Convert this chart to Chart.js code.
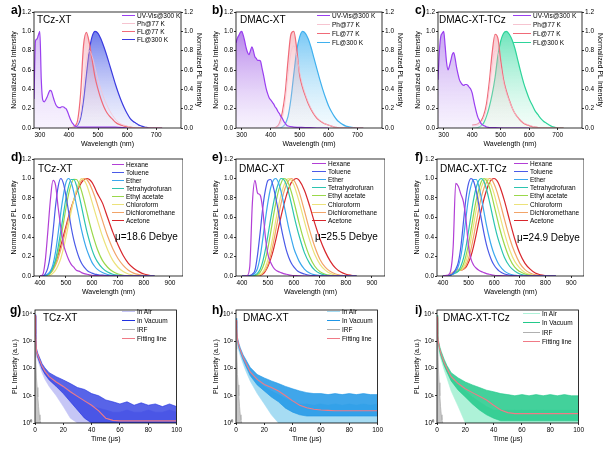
<!DOCTYPE html>
<html>
<head>
<meta charset="utf-8">
<script src="https://cdn.jsdelivr.net/npm/chart.js@4.4.1/dist/chart.umd.min.js"></script>
<style>
  html, body { margin: 0; padding: 0; background: #fff; }
  body { position: relative; width: 610px; height: 449px; overflow: hidden;
         font-family: "Liberation Sans", Arial, sans-serif; color: #000; }
  canvas { position: absolute; }
  .txt { position: absolute; white-space: nowrap; z-index: 2; }
  .letter { font-weight: bold; font-size: 12px; line-height: 12px; }
  .name { font-size: 10px; line-height: 10px; }
  .leg { position: absolute; z-index: 2; font-size: 6.5px; line-height: 8px; height: 8px; white-space: nowrap; }
  .leg i { position: absolute; left: 0; top: 3px; height: 1px; }
</style>
</head>
<body>
<script>
// ---------- row 1: absorption and PL spectra ----------
const WL_ABS = [280,285,290,295,300,305,310,315,320,325,330,335,340,345,350,355,360,365,370,375,
                380,385,390,395,400,405,410,415,420,425,430,435,440,445,450,455,460,480,520,560,600];
const WL_PL = [400,410,420,430,440,450,460,470,480,490,500,510,520,530,540,550,560,570,580,590,
               600,610,620,630,640,650,660,670,680,690,700,710,720];
const X_TICKS_1 = [300, 400, 500, 600, 700];
const Y_TICKS = [0, 0.2, 0.4, 0.6, 0.8, 1.0, 1.2];
const LEGEND_1 = ['UV-Vis@300 K', 'Ph@77 K', 'FL@77 K', 'FL@300 K'];

const absTCz = [0.3,0.9,0.92,0.96,1.0,0.5,0.29,0.27,0.29,0.32,
                0.36,0.39,0.38,0.33,0.28,0.24,0.22,0.21,0.21,0.22,
                0.22,0.21,0.2,0.17,0.13,0.09,0.06,0.04,0.02,0.015,
                0.01,0.01,0.01,0.01,0.01,0.01,0.01,0.01,0.01,0.01,0];
const absDMAC = [0.88,0.93,0.96,0.99,1.0,0.96,0.9,0.83,0.78,0.76,
                 0.8,0.84,0.8,0.74,0.72,0.7,0.7,0.69,0.62,0.55,
                 0.47,0.4,0.35,0.31,0.29,0.27,0.25,0.22,0.2,0.17,
                 0.15,0.12,0.1,0.07,0.05,0.03,0.02,0.01,0.005,0,0];
const absDMACT = [0.5,0.8,0.95,0.98,1.0,0.85,0.68,0.6,0.64,0.7,
                  0.76,0.78,0.72,0.63,0.56,0.5,0.47,0.45,0.44,0.45,
                  0.45,0.44,0.42,0.4,0.36,0.29,0.22,0.16,0.11,0.08,
                  0.05,0.035,0.025,0.02,0.01,0.008,0.005,0.003,0,0,0];

const ph77TCz = [0,0,0.01,0.04,0.15,0.42,0.7,0.8,0.74,0.62,0.5,0.4,0.31,0.24,0.18,0.13,0.09,0.06,0.04,0.03,
                 0.02,0.01,0.005,0,0,0,0,0,0,0,0,0,0];
const fl77TCz = [0,0.005,0.02,0.08,0.35,0.85,0.99,0.88,0.7,0.52,0.4,0.3,0.22,0.16,0.12,0.09,0.06,0.04,0.03,0.02,
                 0.015,0.01,0.005,0,0,0,0,0,0,0,0,0,0];
const fl300TCz = [0,0,0.01,0.03,0.1,0.28,0.55,0.8,0.95,1.0,0.98,0.92,0.84,0.75,0.65,0.55,0.45,0.36,0.28,0.21,
                  0.15,0.1,0.07,0.05,0.03,0.02,0.01,0.005,0,0,0,0,0];
const ph77DMAC = [0,0,0.005,0.03,0.1,0.28,0.55,0.78,0.85,0.75,0.58,0.45,0.35,0.27,0.2,0.15,0.11,0.08,0.06,0.04,
                  0.03,0.02,0.01,0.005,0,0,0,0,0,0,0,0,0];
const fl77DMAC = [0,0,0.01,0.05,0.16,0.36,0.7,0.97,1.0,0.82,0.55,0.42,0.33,0.25,0.19,0.14,0.1,0.075,0.055,0.04,
                  0.03,0.02,0.01,0.005,0,0,0,0,0,0,0,0,0];
const fl300DMAC = [0,0,0,0,0.01,0.04,0.12,0.3,0.56,0.8,0.94,1.0,0.98,0.92,0.83,0.72,0.61,0.5,0.4,0.31,
                   0.23,0.17,0.12,0.08,0.055,0.035,0.02,0.012,0.006,0.003,0,0,0];
const ph77DMACT = [0.02,0.025,0.03,0.05,0.1,0.2,0.4,0.65,0.8,0.78,0.62,0.47,0.36,0.28,0.21,0.15,0.11,0.08,0.055,0.04,
                   0.03,0.02,0.01,0.005,0,0,0,0,0,0,0,0,0];
const fl77DMACT = [0.03,0.035,0.045,0.07,0.13,0.25,0.48,0.78,0.97,0.93,0.7,0.5,0.38,0.29,0.21,0.15,0.11,0.075,0.05,0.035,
                   0.025,0.015,0.01,0.005,0,0,0,0,0,0,0,0,0];
const fl300DMACT = [0,0,0.005,0.02,0.05,0.12,0.22,0.35,0.52,0.75,0.9,0.98,1.0,0.97,0.91,0.82,0.7,0.58,0.47,0.38,
                    0.3,0.24,0.18,0.14,0.1,0.07,0.05,0.03,0.015,0.007,0,0,0];

// ---------- row 2: solvatochromic PL ----------
const WL_SOLV = [400,410,420,430,440,450,460,470,480,490,500,510,520,530,540,550,560,570,580,590,600,610,620,
                 640,660,680,700,720,740,760,780,800,820,840];
const X_TICKS_2 = [400, 500, 600, 700, 800, 900];
const SOLVENTS = ['Hexane','Toluene','Ether','Tetrahydrofuran','Ethyl acetate','Chloroform','Dichloromethane','Acetone'];
const SOLV_COLORS = ['#b23fd6','#4a5ae8','#3ba7ee','#2cc4b0','#9ad84a','#ece27a','#f2a468','#d8262c'];

const solvTCz = [
  [0,0.01,0.15,0.45,0.78,0.98,0.93,0.7,0.5,0.33,0.24,0.17,0.12,0.09,0.06,0.05,0.035,0.025,0.018,0.012,0.008,0.005,0.003,0.001,0,0,0,0,0,0,0,0,0,0],
  [0,0,0.02,0.08,0.22,0.45,0.72,0.92,1.0,0.95,0.82,0.66,0.5,0.37,0.27,0.19,0.13,0.09,0.06,0.04,0.03,0.02,0.015,0.008,0.004,0.002,0,0,0,0,0,0,0,0],
  [0,0,0.005,0.02,0.05,0.12,0.25,0.44,0.65,0.83,0.96,1.0,0.96,0.86,0.73,0.6,0.47,0.36,0.27,0.2,0.14,0.1,0.07,0.035,0.015,0.006,0.002,0,0,0,0,0,0,0],
  [0,0,0.005,0.015,0.04,0.09,0.17,0.3,0.46,0.63,0.8,0.92,0.99,0.99,0.93,0.83,0.71,0.58,0.46,0.36,0.27,0.2,0.15,0.08,0.04,0.018,0.008,0.003,0,0,0,0,0,0],
  [0,0,0,0.01,0.03,0.07,0.14,0.24,0.38,0.54,0.7,0.84,0.94,0.99,0.99,0.95,0.87,0.77,0.66,0.55,0.45,0.36,0.28,0.16,0.09,0.045,0.02,0.008,0.003,0,0,0,0,0],
  [0,0,0,0,0.01,0.03,0.06,0.11,0.18,0.28,0.4,0.53,0.66,0.78,0.88,0.96,1.0,0.98,0.93,0.85,0.76,0.67,0.58,0.41,0.27,0.16,0.09,0.045,0.02,0.008,0.003,0,0,0],
  [0,0,0,0.01,0.03,0.06,0.11,0.18,0.27,0.37,0.48,0.59,0.69,0.78,0.86,0.93,0.98,1.0,0.99,0.95,0.89,0.82,0.74,0.57,0.41,0.28,0.18,0.11,0.06,0.03,0.015,0.006,0.002,0],
  [0,0,0.005,0.015,0.04,0.08,0.14,0.22,0.31,0.41,0.51,0.61,0.7,0.78,0.85,0.91,0.96,0.99,1.0,0.99,0.96,0.91,0.85,0.75,0.6,0.45,0.32,0.21,0.13,0.08,0.045,0.02,0.008,0]
];
const solvDMAC = [
  [0,0,0.005,0.1,0.75,0.98,0.85,0.83,0.68,0.4,0.22,0.14,0.09,0.06,0.045,0.035,0.025,0.018,0.012,0.008,0.005,0.003,0.002,0,0,0,0,0,0,0,0,0,0,0],
  [0,0,0,0.005,0.02,0.06,0.22,0.45,0.7,0.88,0.98,0.99,0.92,0.8,0.66,0.51,0.38,0.27,0.19,0.13,0.09,0.06,0.04,0.02,0.008,0.003,0,0,0,0,0,0,0,0],
  [0,0,0,0,0.01,0.03,0.08,0.2,0.38,0.58,0.76,0.9,0.98,1.0,0.96,0.87,0.75,0.62,0.49,0.38,0.28,0.21,0.15,0.07,0.03,0.012,0.005,0,0,0,0,0,0,0],
  [0,0,0,0,0,0.01,0.03,0.07,0.15,0.27,0.42,0.58,0.73,0.86,0.95,1.0,0.99,0.94,0.85,0.74,0.62,0.51,0.41,0.24,0.13,0.06,0.025,0.01,0,0,0,0,0,0],
  [0,0,0,0,0,0.005,0.015,0.04,0.09,0.17,0.29,0.44,0.6,0.75,0.87,0.95,1.0,0.99,0.94,0.86,0.76,0.65,0.54,0.35,0.2,0.1,0.045,0.018,0.007,0,0,0,0,0],
  [0,0,0,0,0,0,0.005,0.015,0.04,0.09,0.17,0.28,0.42,0.57,0.71,0.83,0.92,0.98,1.0,0.98,0.93,0.85,0.76,0.56,0.37,0.22,0.12,0.06,0.025,0.01,0,0,0,0],
  [0,0,0,0,0,0,0,0.01,0.03,0.06,0.12,0.21,0.33,0.47,0.61,0.74,0.85,0.93,0.98,1.0,0.98,0.93,0.86,0.67,0.47,0.3,0.17,0.09,0.045,0.02,0.008,0,0,0],
  [0,0,0,0,0,0,0,0.005,0.02,0.05,0.1,0.17,0.26,0.37,0.49,0.61,0.72,0.82,0.9,0.96,0.99,1.0,0.98,0.88,0.72,0.54,0.38,0.25,0.15,0.08,0.04,0.018,0.007,0]
];
const solvDMACT = [
  [0,0.005,0.01,0.05,0.3,0.95,0.92,0.84,0.76,0.58,0.3,0.17,0.11,0.08,0.06,0.045,0.035,0.025,0.018,0.012,0.008,0.005,0.003,0.001,0,0,0,0,0,0,0,0,0,0],
  [0,0,0,0.01,0.03,0.07,0.14,0.3,0.55,0.8,0.95,1.0,0.97,0.87,0.73,0.58,0.44,0.32,0.23,0.16,0.11,0.075,0.05,0.02,0.008,0.003,0,0,0,0,0,0,0,0],
  [0,0,0,0.01,0.02,0.05,0.1,0.2,0.38,0.6,0.8,0.93,0.99,0.99,0.92,0.8,0.66,0.52,0.4,0.3,0.22,0.16,0.11,0.05,0.02,0.008,0,0,0,0,0,0,0,0],
  [0,0,0,0.01,0.02,0.03,0.05,0.1,0.18,0.3,0.46,0.63,0.79,0.91,0.98,1.0,0.97,0.89,0.78,0.66,0.54,0.43,0.34,0.19,0.1,0.05,0.02,0.008,0,0,0,0,0,0],
  [0,0,0,0.01,0.02,0.04,0.05,0.07,0.12,0.21,0.33,0.48,0.64,0.78,0.89,0.97,1.0,0.98,0.92,0.83,0.72,0.61,0.5,0.32,0.18,0.09,0.045,0.02,0.008,0,0,0,0,0],
  [0,0,0,0.01,0.03,0.05,0.06,0.06,0.09,0.15,0.25,0.38,0.53,0.68,0.81,0.91,0.97,1.0,0.98,0.92,0.84,0.74,0.64,0.44,0.27,0.15,0.08,0.035,0.015,0.005,0,0,0,0],
  [0,0,0,0.02,0.04,0.06,0.07,0.06,0.07,0.11,0.18,0.28,0.41,0.55,0.69,0.81,0.9,0.96,1.0,0.99,0.94,0.87,0.78,0.58,0.39,0.24,0.13,0.065,0.03,0.012,0.004,0,0,0],
  [0,0,0,0.01,0.03,0.05,0.06,0.06,0.07,0.09,0.14,0.21,0.31,0.43,0.56,0.68,0.79,0.88,0.95,0.99,1.0,0.98,0.93,0.77,0.57,0.38,0.23,0.13,0.07,0.03,0.012,0.004,0,0]
];

// ---------- row 3: transient PL decay ----------
const T = [0,0.5,1,2,3,5,7,10,15,20,25,30,35,40,45,50,55,60,65,70,75,80,85,90,95,100];
const T_IRF = [0,0.5,1,1.5,2,2.5,3,3.5,4];
const X_TICKS_3 = [0, 20, 40, 60, 80, 100];
const Y_TICKS_LOG = [1, 10, 100, 1000, 10000];
const LEGEND_3 = ['In Air', 'In Vacuum', 'IRF', 'Fitting line'];

const fitTCz   = [9000,1500,450,300,220,120,80,50,32,22,14,9.5,6.5,4.5,2.8,1.5,1.25,1.2,1.2,1.2,1.2,1.2,1.2,1.2,1.2,1.2];
const vacHiTCz = [9500,1900,560,360,270,150,105,70,50,38,28,20,17,12,10,7,6,5,6,4.5,5.5,4.5,5,4,5,4];
const vacLoTCz = [8500,1200,380,250,180,95,62,38,22,12,6,3,1.5,1,1,1,1,1,1,1,1,1,1,1,1,1];
const airHiTCz = [8000,1400,420,280,200,110,75,48,30,19,13,9,6,4,3.5,3,2.5,2.5,3,2.5,2.5,3,2.5,2.5,3,2.5];
const airLoTCz = [7000,1000,300,200,140,70,40,22,10,4,1.5,1,1,1,1,1,1,1,1,1,1,1,1,1,1,1];
const irfTCz   = [1500,250,45,20,9,4,2,1.3,1];

const fitDMAC   = [6000,2500,1200,700,480,260,160,75,40,26,20,15,10,6.5,4.5,3.6,3.2,3,2.9,2.8,2.8,2.8,2.8,2.8,2.8,2.8];
const vacHiDMAC = [7000,3000,1400,850,580,320,210,110,60,45,35,28,22,18,15,13,12,12,11,12,11,12,11,12,11,11];
const vacLoDMAC = [5500,2100,1000,580,400,210,120,55,25,15,9,6,3.5,2.5,2,1.8,1.8,1.8,1.8,1.8,1.8,1.8,1.8,1.8,1.8,1.8];
const airHiDMAC = [6000,2300,1100,650,430,230,140,70,35,22,15,11,8,6,5,5,4.5,5,4.5,5,4.5,5,4.5,5,4.5,5];
const airLoDMAC = [5000,1800,800,450,300,150,80,35,12,5,2,1,1,1,1,1,1,1,1,1,1,1,1,1,1,1];
const irfDMAC   = [3000,500,60,25,10,4,2,1.3,1];

const fitDMACT   = [8000,1500,900,500,330,170,100,50,28,18,13,9.5,7,4.5,3,2.4,2.2,2.2,2.2,2.2,2.2,2.2,2.2,2.2,2.2,2.2];
const vacHiDMACT = [9000,1800,1100,620,420,220,130,70,45,32,25,20,16,14,12,11,10,11,10,11,10,11,10,11,10,10];
const vacLoDMACT = [7000,1200,750,400,260,130,75,35,16,9,5,3,2,1.5,1.2,1.2,1.2,1.2,1.2,1.2,1.2,1.2,1.2,1.2,1.2,1.2];
const airHiDMACT = [8000,1400,850,450,300,150,90,45,25,15,9,6,4,3,3,3,3,3,3,3,3,3,3,3,3,3];
const airLoDMACT = [6000,1000,600,300,200,90,45,15,4,1,1,1,1,1,1,1,1,1,1,1,1,1,1,1,1,1];
const irfDMACT   = [5000,800,100,30,10,4,2,1.3,1];

// ---------- helpers ----------
const FONT = "'Liberation Sans', Arial, sans-serif";
const TICK_FONT = {family: FONT, size: 6.5};
const TITLE_FONT = {family: FONT, size: 7};
const SUP = ['\u2070', '\u00b9', '\u00b2', '\u00b3', '\u2074'];

const pts = (xs, ys) => xs.map((x, i) => ({x, y: ys[i]}));

function grad(top, bottom) {
  return ctx => {
    const a = ctx.chart.chartArea;
    if (!a) return top;
    const g = ctx.chart.ctx.createLinearGradient(0, a.top, 0, a.bottom);
    g.addColorStop(0, top);
    g.addColorStop(1, bottom);
    return g;
  };
}

const frame = {
  id: 'frame',
  afterDatasetsDraw(chart) {
    const {ctx, chartArea: a} = chart;
    ctx.save();
    ctx.strokeStyle = '#000';
    ctx.lineWidth = 0.8;
    ctx.strokeRect(a.left, a.top, a.right - a.left, a.bottom - a.top);
    ctx.restore();
  }
};

function axis(o) {
  return {
    type: o.type || 'linear',
    position: o.position,
    min: o.min, max: o.max,
    afterBuildTicks: s => { s.ticks = o.ticks.map(v => ({value: v})); },
    afterFit: s => { if (o.size.w) s.width = o.size.w; else s.height = o.size.h; },
    border: {display: false},
    grid: {drawOnChartArea: false, tickLength: 2, color: '#000', lineWidth: 0.8},
    ticks: {font: TICK_FONT, color: '#000', padding: 1, maxRotation: 0, autoSkip: false,
            callback: o.fmt || (v => v)},
    title: {display: true, text: o.title, font: TITLE_FONT, color: '#000', padding: 0}
  };
}

const fmt1 = v => v.toFixed(1);
const fmtLog = v => '10' + SUP[Math.round(Math.log10(v))];

function addText(cls, text, x, y) {
  const d = document.createElement('div');
  d.className = 'txt ' + cls;
  d.style.left = x + 'px';
  d.style.top = y + 'px';
  d.textContent = text;
  document.body.appendChild(d);
}

function addLegend(datasets, spec) {
  const [lx, tx, y0, dy] = spec;
  datasets.filter(d => d.label).forEach((d, k) => {
    const row = document.createElement('div');
    row.className = 'leg';
    row.style.left = lx + 'px';
    row.style.top = Math.round(y0 + k * dy - 4) + 'px';
    const mark = document.createElement('i');
    mark.style.width = (tx - lx - 2) + 'px';
    mark.style.background = d.borderColor;
    const t = document.createElement('span');
    t.style.marginLeft = (tx - lx) + 'px';
    t.textContent = d.label;
    row.append(mark, t);
    document.body.appendChild(row);
  });
}

function panel(p, datasets, scales) {
  const c = document.createElement('canvas');
  c.width = p.box[2];
  c.height = p.box[3];
  c.style.left = p.box[0] + 'px';
  c.style.top = p.box[1] + 'px';
  document.body.appendChild(c);
  new Chart(c, {
    type: 'line',
    data: {datasets},
    options: {
      responsive: false, animation: false, events: [],
      layout: {padding: {top: 5, left: 0, right: 0, bottom: 0}},
      elements: {point: {radius: 0}},
      plugins: {legend: {display: false}, tooltip: {enabled: false}},
      scales
    },
    plugins: [frame]
  });
  addText('letter', p.letter, p.letterAt[0], p.letterAt[1]);
  addText('name', p.name, p.nameAt[0], p.nameAt[1]);
  if (p.mu) addText('name', p.mu, p.muAt[0], p.muAt[1]);
  addLegend(datasets, p.leg);
}

// ---------- row 1 ----------
function spectraPanel(p, abs, ph, fl77, fl300, uvTop, flLine, flTop, flBottom) {
  const ds = [
    {label: LEGEND_1[0], data: pts(WL_ABS, abs), yAxisID: 'y', borderColor: '#9a3ff0', borderWidth: 1.2,
     fill: 'origin', backgroundColor: grad(uvTop, 'rgba(236,224,252,0.4)'), cubicInterpolationMode: 'monotone'},
    {label: LEGEND_1[1], data: pts(WL_PL, ph), yAxisID: 'y2', borderColor: '#f6c4d0', borderWidth: 0.8,
     fill: false, cubicInterpolationMode: 'monotone'},
    {label: LEGEND_1[2], data: pts(WL_PL, fl77), yAxisID: 'y2', borderColor: '#f06a78', borderWidth: 1.2,
     fill: 'origin', backgroundColor: grad('rgba(240,120,135,0.55)', 'rgba(250,228,230,0.15)'),
     cubicInterpolationMode: 'monotone'},
    {label: LEGEND_1[3], data: pts(WL_PL, fl300), yAxisID: 'y2', borderColor: flLine, borderWidth: 1.2,
     fill: 'origin', backgroundColor: grad(flTop, flBottom), cubicInterpolationMode: 'monotone'}
  ];
  panel(p, ds, {
    x: axis({min: 280, max: 785, ticks: X_TICKS_1, title: 'Wavelength (nm)', size: {h: 20}}),
    y: axis({position: 'left', min: 0, max: 1.2, ticks: Y_TICKS, fmt: fmt1,
             title: 'Normalized Abs Intensity', size: {w: 24}}),
    y2: axis({position: 'right', min: 0, max: 1.2, ticks: Y_TICKS, fmt: fmt1,
              title: 'Normalized PL Intensity', size: {w: 22}})
  });
}

spectraPanel({box: [10, 7, 193, 141], letter: 'a)', letterAt: [11, 4], name: 'TCz-XT', nameAt: [37, 15],
              leg: [122, 137, 16, 8]},
  absTCz, ph77TCz, fl77TCz, fl300TCz, 'rgba(175,125,238,0.6)',
  '#3a3ae0', 'rgba(50,70,228,0.92)', 'rgba(210,215,250,0.3)');
spectraPanel({box: [212, 7, 192, 141], letter: 'b)', letterAt: [212, 4], name: 'DMAC-XT', nameAt: [240, 15],
              leg: [317, 332, 16, 9]},
  absDMAC, ph77DMAC, fl77DMAC, fl300DMAC, 'rgba(150,75,225,0.88)',
  '#3fb0ee', 'rgba(60,175,240,0.9)', 'rgba(215,240,252,0.3)');
spectraPanel({box: [414, 7, 190, 141], letter: 'c)', letterAt: [415, 4], name: 'DMAC-XT-TCz', nameAt: [439, 15],
              leg: [513, 533, 16, 9]},
  absDMACT, ph77DMACT, fl77DMACT, fl300DMACT, 'rgba(160,100,232,0.75)',
  '#2dd49a', 'rgba(40,215,155,0.88)', 'rgba(215,250,235,0.3)');

// ---------- row 2 ----------
function solventPanel(p, curves) {
  const ds = curves.map((ys, k) => ({
    label: SOLVENTS[k], data: pts(WL_SOLV, ys), borderColor: SOLV_COLORS[k], borderWidth: 1.2,
    fill: false, cubicInterpolationMode: 'monotone'
  }));
  panel(p, ds, {
    x: axis({min: 377, max: 950, ticks: X_TICKS_2, title: 'Wavelength (nm)', size: {h: 20}}),
    y: axis({position: 'left', min: 0, max: 1.2, ticks: Y_TICKS, fmt: fmt1,
             title: 'Normalized PL Intensity', size: {w: 24}})
  });
}

solventPanel({box: [10, 154, 173, 142], letter: 'd)', letterAt: [11, 151], name: 'TCz-XT', nameAt: [38, 164],
              mu: '\u03bc=18.6 Debye', muAt: [115, 232], leg: [112, 126, 165, 8]}, solvTCz);
solventPanel({box: [212, 154, 173, 142], letter: 'e)', letterAt: [212, 151], name: 'DMAC-XT', nameAt: [239, 164],
              mu: '\u03bc=25.5 Debye', muAt: [315, 232], leg: [312, 328, 164, 8.1]}, solvDMAC);
solventPanel({box: [413, 154, 171, 142], letter: 'f)', letterAt: [415, 151], name: 'DMAC-XT-TCz', nameAt: [440, 164],
              mu: '\u03bc=24.9 Debye', muAt: [517, 233], leg: [514, 530, 164, 8.1]}, solvDMACT);

// ---------- row 3 ----------
function decayPanel(p, airHi, airLo, vacHi, vacLo, irf, fit, air, vac, vacFill) {
  const ds = [
    {label: LEGEND_3[0], data: pts(T, airHi), borderColor: air, borderWidth: 0.6, backgroundColor: air,
     fill: '+1', order: 3},
    {data: pts(T, airLo), borderColor: air, borderWidth: 0.6, fill: false, order: 3},
    {label: LEGEND_3[1], data: pts(T, vacHi), borderColor: vac, borderWidth: 0.6, backgroundColor: vacFill,
     fill: '+1', order: 2},
    {data: pts(T, vacLo), borderColor: vac, borderWidth: 0.6, fill: false, order: 2},
    {label: LEGEND_3[2], data: pts(T_IRF, irf), borderColor: '#b0b0b0', borderWidth: 0.8,
     backgroundColor: 'rgba(185,185,185,0.8)', fill: 'start', order: 1},
    {label: LEGEND_3[3], data: pts(T, fit), borderColor: '#f07a86', borderWidth: 1.1, fill: false, order: 0}
  ];
  panel(p, ds, {
    x: axis({min: 0, max: 100, ticks: X_TICKS_3, title: 'Time (\u03bcs)', size: {h: 20}}),
    y: axis({type: 'logarithmic', position: 'left', min: 1, max: 14000, ticks: Y_TICKS_LOG, fmt: fmtLog,
             title: 'PL Intensity (a.u.)', size: {w: 24}})
  });
}

decayPanel({box: [11, 305, 172, 138], letter: 'g)', letterAt: [10, 304], name: 'TCz-XT', nameAt: [43, 313],
            leg: [122, 137, 312, 9]},
  airHiTCz, airLoTCz, vacHiTCz, vacLoTCz, irfTCz, fitTCz, '#c6c6f6', '#2030e0', 'rgba(32,48,224,0.75)');
decayPanel({box: [212, 305, 172, 138], letter: 'h)', letterAt: [212, 304], name: 'DMAC-XT', nameAt: [243, 313],
            leg: [327, 342, 312, 9]},
  airHiDMAC, airLoDMAC, vacHiDMAC, vacLoDMAC, irfDMAC, fitDMAC, '#a6dcf3', '#1f96e6', 'rgba(31,150,230,0.85)');
decayPanel({box: [413, 305, 172, 138], letter: 'i)', letterAt: [415, 304], name: 'DMAC-XT-TCz', nameAt: [443, 313],
            leg: [523, 542, 314, 9.3]},
  airHiDMACT, airLoDMACT, vacHiDMACT, vacLoDMACT, irfDMACT, fitDMACT, '#aef2d8', '#22c98a', 'rgba(34,201,138,0.85)');
</script>
</body>
</html>
